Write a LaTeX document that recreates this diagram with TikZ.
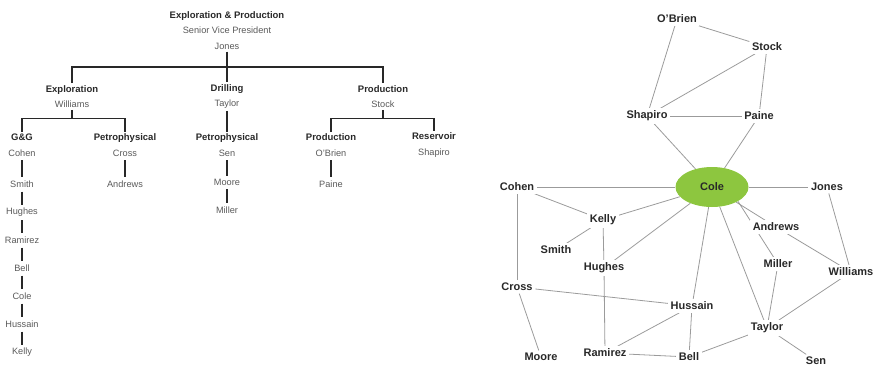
\documentclass[tikz,border=0pt]{standalone}
\usepackage{fontspec}
\setmainfont{Liberation Sans}
\usetikzlibrary{positioning,backgrounds,shapes.geometric}
\definecolor{orgink}{RGB}{40,40,40}
\definecolor{namegray}{RGB}{90,90,90}
\definecolor{linkgray}{RGB}{155,155,155}
\definecolor{colegreen}{RGB}{141,198,63}
\newcommand\orgtitle[1]{{\fontsize{9.5}{15.5}\selectfont\bfseries\color{orgink}#1}}

\begin{document}
\begin{tikzpicture}[x=1pt, y=-1pt,
  orgunit/.style = {align=center, inner sep=2pt, text=namegray,
    font=\fontsize{9.2}{15.5}\selectfont},
  orgline/.style = {draw=orgink, line width=1.7pt},
  person/.style = {fill=white, inner sep=2.5pt, text=orgink,
    font=\fontsize{11}{13}\selectfont\bfseries},
  colebox/.style = {person, ellipse, fill=colegreen, draw=none,
    minimum width=73pt, minimum height=40pt, inner sep=0pt},
  link/.style = {draw=linkgray, line width=0.8pt}]
\useasboundingbox (0,0) rectangle (873,367);

\node[orgunit] (orgevp) at (227,30.5)
  {\orgtitle{Exploration \& Production}\\Senior Vice President\\Jones};
\node[orgunit] (orgexpl) at (72,96.5) {\orgtitle{Exploration}\\Williams};
\node[orgunit] (orgdrill) at (227,96.5) {\orgtitle{Drilling}\\Taylor};
\node[orgunit] (orgprod) at (383,96.5) {\orgtitle{Production}\\Stock};
\node[orgunit] (orggg) at (22,145) {\orgtitle{G\&G}\\Cohen};
\node[orgunit] (orgpetroa) at (125,145) {\orgtitle{Petrophysical}\\Cross};
\node[orgunit] (orgpetrob) at (227,145) {\orgtitle{Petrophysical}\\Sen};
\node[orgunit] (orgprodn) at (331,145) {\orgtitle{Production}\\O'Brien};
\node[orgunit] (orgresv) at (434,145) {\orgtitle{Reservoir}\\Shapiro};
\foreach \n/\t/\y in {smith/Smith/184, hughes/Hughes/212, ramirez/Ramirez/240,
    bell/Bell/268, cole/Cole/296, hussain/Hussain/324, kelly/Kelly/352}
  \node[orgunit] (org\n) at (22,\y) {\t};
\node[orgunit] (organdrews) at (125,184) {Andrews};
\node[orgunit] (orgmoore) at (227,182) {Moore};
\node[orgunit] (orgmiller) at (227,210) {Miller};
\node[orgunit] (orgpaine) at (331,184) {Paine};
\coordinate (orgbar) at (227,67);

\draw[orgline] (orgevp) -- (orgdrill);
\draw[orgline] (orgexpl.north) |- (orgbar) -| (orgprod.north);
\draw[orgline] (orgexpl.south) -- ++(0,8.5) -| (orggg.north)
  (orgexpl.south) ++(0,8.5) -| (orgpetroa.north);
\draw[orgline] (orgprod.south) -- ++(0,8.5) -| (orgprodn.north)
  (orgprod.south) ++(0,8.5) -| (orgresv.north);
\draw[orgline] (orgdrill) -- (orgpetrob);
\foreach \a/\b in {orggg/orgsmith, orgsmith/orghughes, orghughes/orgramirez,
    orgramirez/orgbell, orgbell/orgcole, orgcole/orghussain, orghussain/orgkelly,
    orgpetroa/organdrews, orgpetrob/orgmoore, orgmoore/orgmiller, orgprodn/orgpaine}
  \draw[orgline, shorten <=2pt, shorten >=1pt] (\a) -- (\b);

\node[colebox] (cole) at (712,187) {Cole};
\node[person] (obrien) at (677,19) {O'Brien};
\node[person] (stock) at (767,47) {Stock};
\node[person] (shapiro) at (647,116) {Shapiro};
\node[person] (paine) at (759,116) {Paine};
\node[person] (cohen) at (517,187) {Cohen};
\node[person] (jones) at (827,187) {Jones};
\node[person] (kelly) at (603,220) {Kelly};
\node[person] (smith) at (556,250) {Smith};
\node[person] (hughes) at (604,268) {Hughes};
\node[person] (andrews) at (776,227) {Andrews};
\node[person] (miller) at (778,264) {Miller};
\node[person] (williams) at (851,272) {Williams};
\node[person] (cross) at (517,287) {Cross};
\node[person] (hussain) at (692,306) {Hussain};
\node[person] (taylor) at (767,328) {Taylor};
\node[person] (moore) at (541,357) {Moore};
\node[person] (ramirez) at (605,353) {Ramirez};
\node[person] (bell) at (689,357) {Bell};
\node[person] (sen) at (816,361) {Sen};

\begin{scope}[on background layer]
\foreach \a/\b in {obrien/stock, obrien/shapiro, stock/shapiro, stock/paine,
    shapiro/paine, shapiro/cole, paine/cole, cohen/cole, cole/jones,
    cohen/kelly, cohen/cross, kelly/cole, kelly/smith, kelly/hughes,
    hughes/ramirez, hughes/cole, cole/hussain, hussain/bell, cross/hussain,
    cross/moore, hussain/ramirez, ramirez/bell, bell/taylor, cole/taylor,
    cole/andrews, cole.south east/miller, andrews/williams, miller/taylor,
    williams/taylor, jones/williams, taylor/sen}
  \draw[link] (\a) -- (\b);
\end{scope}
\end{tikzpicture}
\end{document}
